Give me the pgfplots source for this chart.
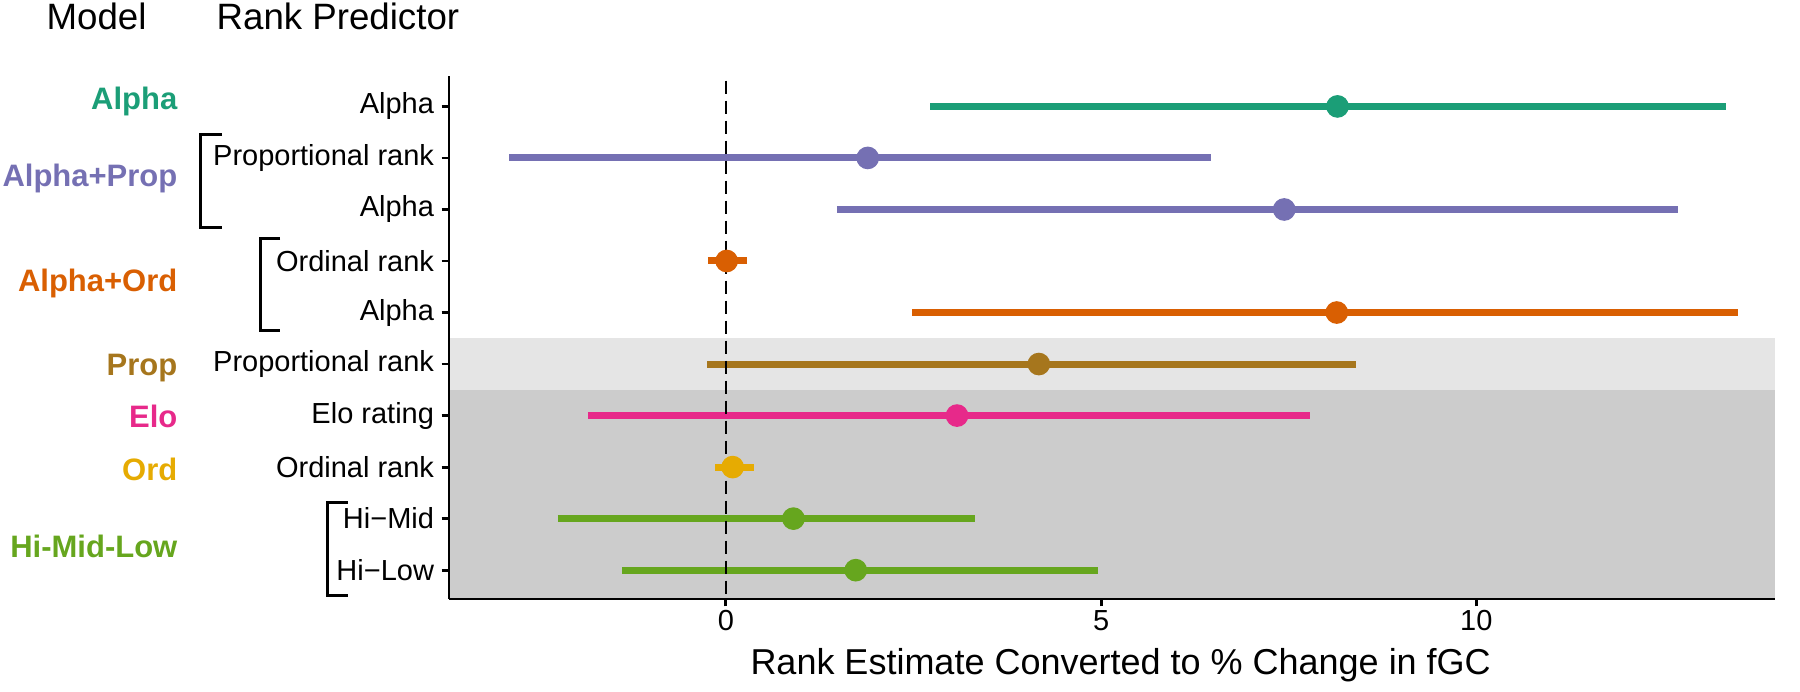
\documentclass[border=0pt]{standalone}
\usepackage{fontspec}
\setmainfont{Liberation Sans}
\usepackage{pgfplots}
\pgfplotsset{compat=1.18}
\definecolor{cgreen}{HTML}{1B9E77}
\definecolor{cpurple}{HTML}{7570B3}
\definecolor{corange}{HTML}{D95F02}
\definecolor{cpink}{HTML}{E7298A}
\definecolor{clime}{HTML}{66A61E}
\definecolor{cgold}{HTML}{E6AB02}
\definecolor{cbrown}{HTML}{A6761D}
\definecolor{lightgray}{HTML}{E5E5E5}
\definecolor{darkgray}{HTML}{CCCCCC}
\begin{document}
\begin{tikzpicture}
\begin{axis}[
  at={(134.7pt,27.6pt)}, anchor=south west,
  scale only axis, width=397.8pt, height=156.9pt,
  xmin=-3.69, xmax=13.98, ymin=0.44, ymax=10.59,
  axis x line*=bottom, axis y line*=left,
  axis line style={line width=0.85pt, -},
  clip=false, axis on top,
  xtick={0,5,10}, ytick={1,2,3,4,5,6,7,8,9,10},
  yticklabels={Hi−Low, Hi−Mid, Ordinal rank, Elo rating, Proportional rank, Alpha, Ordinal rank, Alpha, Proportional rank, Alpha},
  tick align=outside, major tick length=2.2pt,
  tick style={line width=0.85pt, black},
  ticklabel style={font=\fontsize{8.7}{10}\selectfont},
  /pgf/number format/assume math mode=true,
  yticklabel style={inner sep=0pt, xshift=-2.1pt},
  xticklabel style={inner sep=0pt, yshift=-1.1pt},
]
% background bands
\fill[darkgray] (axis cs:-3.69,0.44) rectangle (axis cs:13.98,4.5);
\fill[lightgray] (axis cs:-3.69,4.5) rectangle (axis cs:13.98,5.5);

% interval bars
\addplot[cgreen, line width=2.1pt] coordinates {(2.72,10) (13.33,10)};
\addplot[cpurple, line width=2.1pt] coordinates {(-2.89,9) (6.46,9)};
\addplot[cpurple, line width=2.1pt] coordinates {(1.48,8) (12.69,8)};
\addplot[corange, line width=2.1pt] coordinates {(-0.24,7) (0.28,7)};
\addplot[corange, line width=2.1pt] coordinates {(2.48,6) (13.49,6)};
\addplot[cbrown, line width=2.1pt] coordinates {(-0.25,5) (8.39,5)};
\addplot[cpink, line width=2.1pt] coordinates {(-1.84,4) (7.78,4)};
\addplot[cgold, line width=2.1pt] coordinates {(-0.14,3) (0.37,3)};
\addplot[clime, line width=2.1pt] coordinates {(-2.24,2) (3.32,2)};
\addplot[clime, line width=2.1pt] coordinates {(-1.38,1) (4.96,1)};

% zero reference line
\draw[black, line width=0.8pt, dash pattern=on 4pt off 2pt] (axis cs:0,10.5) -- (axis cs:0,0.44);

% point estimates
\addplot[only marks, mark=*, mark size=3.2pt, color=cgreen] coordinates {(8.15,10)};
\addplot[only marks, mark=*, mark size=3.2pt, color=cpurple] coordinates {(1.89,9)};
\addplot[only marks, mark=*, mark size=3.2pt, color=cpurple] coordinates {(7.44,8)};
\addplot[only marks, mark=*, mark size=3.2pt, color=corange] coordinates {(0.01,7)};
\addplot[only marks, mark=*, mark size=3.2pt, color=corange] coordinates {(8.14,6)};
\addplot[only marks, mark=*, mark size=3.2pt, color=cbrown] coordinates {(4.17,5)};
\addplot[only marks, mark=*, mark size=3.2pt, color=cpink] coordinates {(3.08,4)};
\addplot[only marks, mark=*, mark size=3.2pt, color=cgold] coordinates {(0.09,3)};
\addplot[only marks, mark=*, mark size=3.2pt, color=clime] coordinates {(0.90,2)};
\addplot[only marks, mark=*, mark size=3.2pt, color=clime] coordinates {(1.73,1)};
\end{axis}

% headers
\node[anchor=base west, inner sep=0pt, font=\fontsize{11}{13}\selectfont] at (13.8pt,198.5pt) {Model};
\node[anchor=base west, inner sep=0pt, font=\fontsize{11}{13}\selectfont] at (64.8pt,198.5pt) {Rank Predictor};

% model labels
\begin{scope}[every node/.style={anchor=base east, inner sep=0pt, font=\fontsize{9.3}{11}\selectfont\bfseries}]
\node[text=cgreen] at (53.4pt,174.6pt) {Alpha};
\node[text=cpurple] at (53.4pt,151.5pt) {Alpha+Prop};
\node[text=corange] at (53.4pt,120pt) {Alpha+Ord};
\node[text=cbrown] at (53.4pt,94.8pt) {Prop};
\node[text=cpink] at (53.4pt,79.1pt) {Elo};
\node[text=cgold] at (53.4pt,63.3pt) {Ord};
\node[text=clime] at (53.4pt,40.1pt) {Hi-Mid-Low};
\end{scope}

% brackets
\draw[line width=0.9pt] (66.6pt,166.9pt) -- (60pt,166.9pt) -- (60pt,139.2pt) -- (66.6pt,139.2pt);
\draw[line width=0.9pt] (84pt,135.9pt) -- (78pt,135.9pt) -- (78pt,108.1pt) -- (84pt,108.1pt);
\draw[line width=0.9pt] (104.25pt,56.7pt) -- (98.1pt,56.7pt) -- (98.1pt,28.6pt) -- (104.25pt,28.6pt);

% x axis title
\node[anchor=base, inner sep=0pt, font=\fontsize{10.8}{12}\selectfont] at (336.2pt,5.1pt) {Rank Estimate Converted to \% Change in fGC};

\pgfresetboundingbox
\useasboundingbox (0,0) rectangle (540pt,207.3pt);
\end{tikzpicture}
\end{document}
